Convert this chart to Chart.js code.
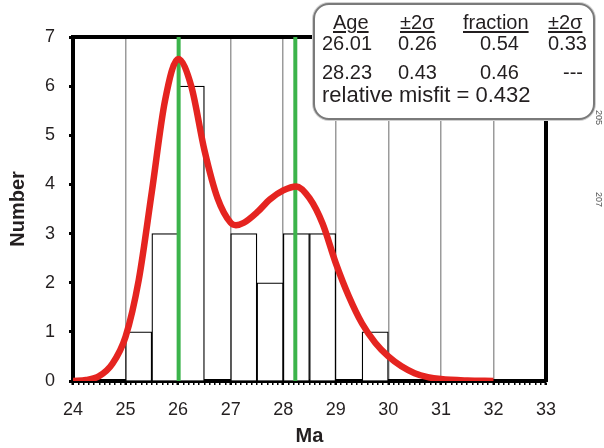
<!DOCTYPE html>
<html>
<head>
<meta charset="utf-8">
<script src="https://cdn.jsdelivr.net/npm/chart.js@4.4.0/dist/chart.umd.min.js"></script>
<style>
  html, body { margin: 0; padding: 0; background: #fff; }
  #wrap { position: relative; width: 604px; height: 448px; overflow: hidden;
          font-family: Arial, "Liberation Sans", sans-serif; color: #231f20; }
  #wrap canvas { position: absolute; left: 0; top: 0; }
  .box { position: absolute; left: 313px; top: 3px; width: 282px; height: 117px;
         border: 2px solid #7a7a7a; border-radius: 16px; background: #fff;
         box-sizing: border-box; box-shadow: 0 0 0 1px #d0d0d0; }
  .cell { position: absolute; font-size: 20px; line-height: 20px; white-space: nowrap; }
  .u { text-decoration: underline; text-decoration-thickness: 2px; text-underline-offset: 2px; }
  .side { position: absolute; font-size: 9px; color: #555; transform: rotate(90deg); transform-origin: left top; }
</style>
</head>
<body>
<div id="wrap">
  <canvas id="chart" width="604" height="448"></canvas>
  <div class="box">
    <span class="cell u" style="left:18px;top:7px">Age</span>
    <span class="cell u" style="left:85px;top:7px">±2σ</span>
    <span class="cell u" style="left:148px;top:7px">fraction</span>
    <span class="cell u" style="left:233px;top:7px">±2σ</span>
    <span class="cell" style="left:7px;top:28px">26.01</span>
    <span class="cell" style="left:83px;top:28px">0.26</span>
    <span class="cell" style="left:165px;top:28px">0.54</span>
    <span class="cell" style="left:233px;top:28px">0.33</span>
    <span class="cell" style="left:7px;top:57px">28.23</span>
    <span class="cell" style="left:83px;top:57px">0.43</span>
    <span class="cell" style="left:165px;top:57px">0.46</span>
    <span class="cell" style="left:248px;top:57px">---</span>
    <span class="cell" style="left:7px;top:80px;font-size:22px">relative misfit = 0.432</span>
  </div>
  <span class="side" style="left:604px;top:110px">205</span>
  <span class="side" style="left:604px;top:192px">207</span>
</div>
<script>
// histogram bins (0.5 Ma wide)
var binCenters = [24.25, 24.75, 25.25, 25.75, 26.25, 26.75, 27.25, 27.75, 28.25,
                  28.75, 29.25, 29.75, 30.25, 30.75, 31.25, 31.75, 32.25, 32.75];
var binCounts = [0, 0, 1, 3, 6, 0, 3, 2, 3, 3, 0, 1, 0, 0, 0, 0, 0, 0];

// fitted peak ages
var peakAges = [26.01, 28.23];

// red fit curve
var curveAges = [24, 24.25, 24.5, 24.75, 25, 25.25, 25.5, 25.75, 26, 26.25, 26.5, 26.75,
                 27, 27.1, 27.25, 27.5, 27.75, 28, 28.25, 28.5, 28.75, 29, 29.25, 29.5,
                 29.75, 30, 30.25, 30.5, 30.75, 31, 31.5, 32];
var curveNumbers = [0, 0.02, 0.1, 0.35, 0.9, 2.05, 3.85, 5.7, 6.55, 6.0, 4.7, 3.72,
                    3.22, 3.17, 3.22, 3.43, 3.7, 3.88, 3.96, 3.72, 3.2, 2.4, 1.72, 1.17,
                    0.78, 0.5, 0.3, 0.16, 0.08, 0.04, 0.01, 0];

var xRange = [24, 33];
var yRange = [0, 7];

var textColor = '#231f20';

function isWhole(v) {
    return Math.abs(v - Math.round(v)) < 1e-6;
}

function toPoints(xs, ys) {
    return xs.map(function (x, i) { return {x: x, y: ys[i]}; });
}

function vLine(age) {
    return {
        type: 'line',
        data: [{x: age, y: yRange[0]}, {x: age, y: yRange[1]}],
        borderColor: '#3cb44b',
        borderWidth: 4,
        pointRadius: 0,
        order: 2
    };
}

var ctx = document.getElementById('chart').getContext('2d');
var chart = new Chart(ctx, {
    type: 'bar',
    data: {
        datasets: [
            {
                type: 'line',
                data: toPoints(curveAges, curveNumbers),
                borderColor: '#e52420',
                borderWidth: 6.5,
                pointRadius: 0,
                cubicInterpolationMode: 'monotone',
                fill: false,
                order: 1
            },
            vLine(peakAges[0]),
            vLine(peakAges[1]),
            {
                type: 'bar',
                data: toPoints(binCenters, binCounts),
                backgroundColor: '#ffffff',
                borderColor: '#000000',
                borderWidth: 1.3,
                // width from neighbouring bins, not from the minor ticks
                barThickness: 'flex',
                barPercentage: 1,
                categoryPercentage: 1,
                order: 3
            }
        ]
    },
    options: {
        responsive: false,
        animation: false,
        layout: {padding: {top: 37, right: 58, bottom: 0, left: 0}},
        plugins: {legend: {display: false}, tooltip: {enabled: false}},
        scales: {
            x: {
                type: 'linear',
                min: xRange[0],
                max: xRange[1],
                offset: false,
                ticks: {
                    stepSize: 0.1,
                    autoSkip: false,
                    maxRotation: 0,
                    minRotation: 0,
                    padding: 14,
                    color: textColor,
                    font: {family: 'Arial, "Liberation Sans"', size: 18},
                    callback: function (v) { return isWhole(v) ? String(Math.round(v)) : ''; }
                },
                grid: {
                    offset: false,
                    color: function (c) {
                        var v = c.tick ? c.tick.value : 0;
                        return (isWhole(v) && v > xRange[0] && v < xRange[1]) ? '#9b9b9b' : 'rgba(0,0,0,0)';
                    },
                    lineWidth: 1.5,
                    drawTicks: true,
                    tickLength: 4,
                    tickColor: '#000',
                    tickWidth: function (c) {
                        return (c.tick && isWhole(c.tick.value)) ? 2.5 : 1.5;
                    }
                },
                border: {color: '#000', width: 4},
                title: {
                    display: true,
                    text: 'Ma',
                    color: textColor,
                    font: {family: 'Arial, "Liberation Sans"', size: 20, weight: 'bold'},
                    padding: {top: 0, bottom: 0}
                },
                afterFit: function (s) { s.height = 67; }
            },
            y: {
                type: 'linear',
                min: yRange[0],
                max: yRange[1],
                ticks: {
                    stepSize: 1,
                    padding: 14,
                    color: textColor,
                    font: {family: 'Arial, "Liberation Sans"', size: 18}
                },
                grid: {
                    drawOnChartArea: false,
                    drawTicks: true,
                    tickLength: 4,
                    tickColor: '#000',
                    tickWidth: 3
                },
                border: {color: '#000', width: 4},
                title: {
                    display: true,
                    text: 'Number',
                    color: textColor,
                    font: {family: 'Arial, "Liberation Sans"', size: 20, weight: 'bold'},
                    padding: {top: 6, bottom: 0}
                },
                afterFit: function (s) { s.width = 73; }
            },
            // frame: top and right edges
            xTop: {
                type: 'linear',
                position: 'top',
                min: xRange[0],
                max: xRange[1],
                ticks: {display: false},
                grid: {drawOnChartArea: false, drawTicks: false},
                border: {color: '#000', width: 4},
                afterFit: function (s) { s.height = 0; }
            },
            yRight: {
                type: 'linear',
                position: 'right',
                min: yRange[0],
                max: yRange[1],
                ticks: {display: false},
                grid: {drawOnChartArea: false, drawTicks: false},
                border: {color: '#000', width: 4},
                afterFit: function (s) { s.width = 0; }
            }
        }
    }
});
</script>
</body>
</html>
